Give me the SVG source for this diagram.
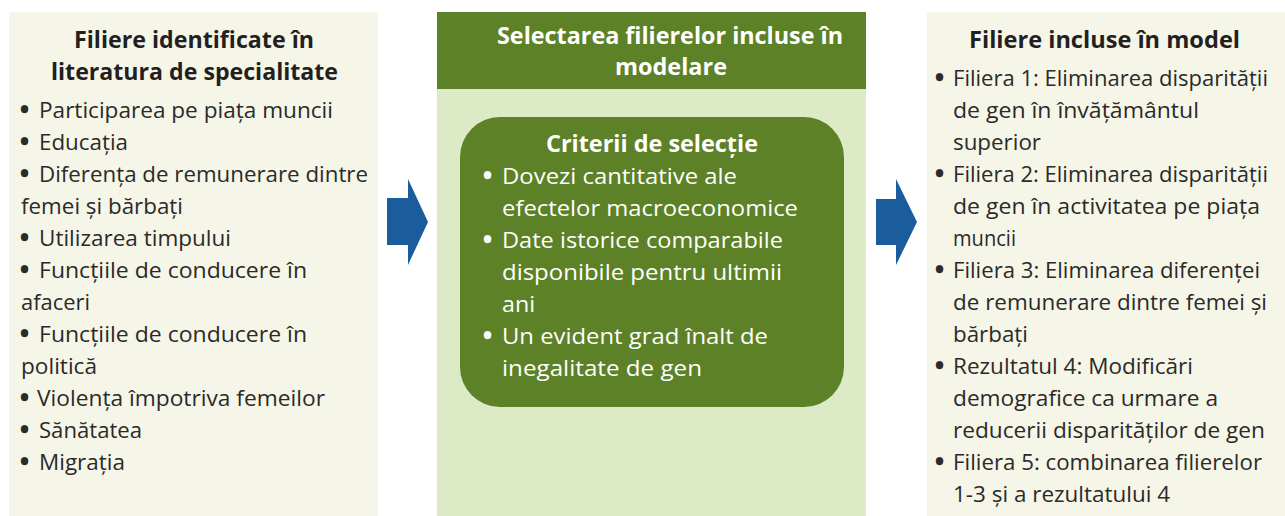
<svg xmlns="http://www.w3.org/2000/svg" width="1285" height="516" viewBox="0 0 1285 516">
<style>
.panel{fill:#f5f6e8}
.cpanel{fill:#ddeac6}
.green{fill:#5d8127}
.arrow{fill:#1b5c9c}
text{font-family:"Open Sans","Noto Sans","Liberation Sans",sans-serif}
.t{font-size:22.5px;fill:#2b2a29}
.b{font-size:24px;font-weight:700;fill:#231f20}
.w{font-size:22.5px;fill:#ffffff}
.wb{font-size:24px;font-weight:700;fill:#ffffff}
.bu{font-size:23px;font-weight:800}
</style>
<rect width="1285" height="516" fill="#ffffff"/>
<g id="left-panel">
<rect class="panel" x="9" y="12" width="369" height="504"/>
<text class="b" x="74" y="48" textLength="240" lengthAdjust="spacingAndGlyphs">Filiere identificate în</text>
<text class="b" x="51" y="80" textLength="287" lengthAdjust="spacingAndGlyphs">literatura de specialitate</text>
<g class="t">
<text class="bu" x="20" y="118">•</text><text x="39" y="118" textLength="294" lengthAdjust="spacingAndGlyphs">Participarea pe piața muncii</text>
<text class="bu" x="20" y="150">•</text><text x="39" y="150" textLength="89" lengthAdjust="spacingAndGlyphs">Educația</text>
<text class="bu" x="20" y="182">•</text><text x="39" y="182" textLength="329" lengthAdjust="spacingAndGlyphs">Diferența de remunerare dintre</text>
<text x="21" y="214" textLength="162" lengthAdjust="spacingAndGlyphs">femei și bărbați</text>
<text class="bu" x="20" y="246">•</text><text x="39" y="246" textLength="192" lengthAdjust="spacingAndGlyphs">Utilizarea timpului</text>
<text class="bu" x="20" y="278">•</text><text x="39" y="278" textLength="268" lengthAdjust="spacingAndGlyphs">Funcțiile de conducere în</text>
<text x="21" y="310" textLength="69" lengthAdjust="spacingAndGlyphs">afaceri</text>
<text class="bu" x="20" y="342">•</text><text x="39" y="342" textLength="268" lengthAdjust="spacingAndGlyphs">Funcțiile de conducere în</text>
<text x="21" y="374" textLength="76" lengthAdjust="spacingAndGlyphs">politică</text>
<text class="bu" x="20" y="406">•</text><text x="37" y="406" textLength="288" lengthAdjust="spacingAndGlyphs">Violența împotriva femeilor</text>
<text class="bu" x="20" y="438">•</text><text x="39" y="438" textLength="103" lengthAdjust="spacingAndGlyphs">Sănătatea</text>
<text class="bu" x="20" y="470">•</text><text x="39" y="470" textLength="86" lengthAdjust="spacingAndGlyphs">Migrația</text>
</g>
</g>
<g id="center-panel">
<rect class="cpanel" x="437" y="12" width="429" height="504"/>
<rect class="green" x="437" y="12" width="429" height="77"/>
<text class="wb" x="497" y="44" textLength="346" lengthAdjust="spacingAndGlyphs">Selectarea filierelor incluse în</text>
<text class="wb" x="615" y="75" textLength="112" lengthAdjust="spacingAndGlyphs">modelare</text>
</g>
<g id="criteria-box">
<rect class="green" x="460" y="117" width="384" height="290" rx="40" ry="40"/>
<text class="wb" x="546" y="152" textLength="212" lengthAdjust="spacingAndGlyphs">Criterii de selecție</text>
<g class="w">
<text class="bu" x="483" y="184">•</text><text x="502" y="184" textLength="235" lengthAdjust="spacingAndGlyphs">Dovezi cantitative ale</text>
<text x="502" y="216" textLength="296" lengthAdjust="spacingAndGlyphs">efectelor macroeconomice</text>
<text class="bu" x="483" y="248">•</text><text x="502" y="248" textLength="281" lengthAdjust="spacingAndGlyphs">Date istorice comparabile</text>
<text x="502" y="280" textLength="280" lengthAdjust="spacingAndGlyphs">disponibile pentru ultimii</text>
<text x="502" y="312" textLength="33" lengthAdjust="spacingAndGlyphs">ani</text>
<text class="bu" x="483" y="344">•</text><text x="502" y="344" textLength="266" lengthAdjust="spacingAndGlyphs">Un evident grad înalt de</text>
<text x="502" y="376" textLength="200" lengthAdjust="spacingAndGlyphs">inegalitate de gen</text>
</g>
</g>
<g id="right-panel">
<rect class="panel" x="927" y="12" width="358" height="504"/>
<text class="b" x="969" y="48" textLength="271" lengthAdjust="spacingAndGlyphs">Filiere incluse în model</text>
<g class="t">
<text class="bu" x="935" y="86">•</text><text x="953" y="86" textLength="315" lengthAdjust="spacingAndGlyphs">Filiera 1: Eliminarea disparității</text>
<text x="953" y="118" textLength="246" lengthAdjust="spacingAndGlyphs">de gen în învățământul</text>
<text x="953" y="150" textLength="88" lengthAdjust="spacingAndGlyphs">superior</text>
<text class="bu" x="935" y="182">•</text><text x="953" y="182" textLength="315" lengthAdjust="spacingAndGlyphs">Filiera 2: Eliminarea disparității</text>
<text x="953" y="214" textLength="307" lengthAdjust="spacingAndGlyphs">de gen în activitatea pe piața</text>
<text x="953" y="246" textLength="63" lengthAdjust="spacingAndGlyphs">muncii</text>
<text class="bu" x="935" y="278">•</text><text x="953" y="278" textLength="307" lengthAdjust="spacingAndGlyphs">Filiera 3: Eliminarea diferenței</text>
<text x="953" y="310" textLength="314" lengthAdjust="spacingAndGlyphs">de remunerare dintre femei și</text>
<text x="953" y="342" textLength="75" lengthAdjust="spacingAndGlyphs">bărbați</text>
<text class="bu" x="935" y="374">•</text><text x="953" y="374" textLength="240" lengthAdjust="spacingAndGlyphs">Rezultatul 4: Modificări</text>
<text x="953" y="406" textLength="265" lengthAdjust="spacingAndGlyphs">demografice ca urmare a</text>
<text x="953" y="438" textLength="312" lengthAdjust="spacingAndGlyphs">reducerii disparităților de gen</text>
<text class="bu" x="935" y="470">•</text><text x="953" y="470" textLength="309" lengthAdjust="spacingAndGlyphs">Filiera 5: combinarea filierelor</text>
<text x="953" y="502" textLength="217" lengthAdjust="spacingAndGlyphs">1-3 și a rezultatului 4</text>
</g>
</g>
<g id="connectors">
<polygon class="arrow" points="387,198 408,198 408,179 428,222 408,265 408,245 387,245"/>
<polygon class="arrow" points="876,199 896,199 896,179 917,222 896,265 896,245 876,245"/>
</g>
</svg>
